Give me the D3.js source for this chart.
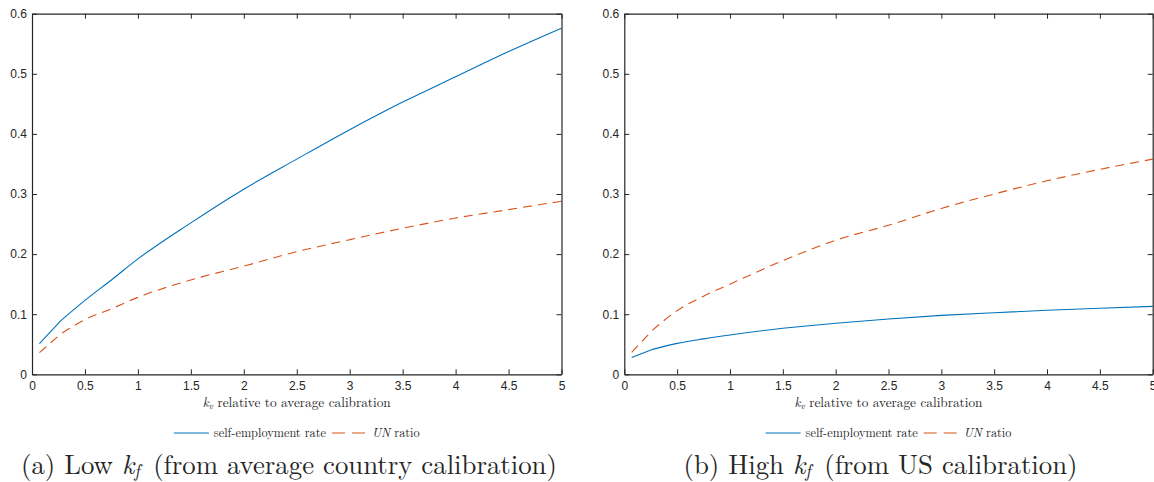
<!DOCTYPE html>
<html>
<head>
<meta charset="utf-8">
<script src="https://cdn.jsdelivr.net/npm/d3@7"></script>
<style>
  body { margin: 0; background: #fff; }
  svg { display: block; }
  .tick text { font-family: "Liberation Sans", Arial, sans-serif; font-size: 12px; fill: #262626; }
  .serif { font-family: "Latin Modern Roman", "CMU Serif", "DejaVu Serif", serif; fill: #262626; }
</style>
</head>
<body>
<script>
var width = 1154,
    height = 482;

// data
var kv = [0.07, 0.27, 0.5, 0.75, 1, 1.5, 2, 2.5, 3, 3.5, 4, 4.5, 5];
var selfEmpLow = [0.051, 0.089, 0.123, 0.157, 0.192, 0.252, 0.308, 0.358, 0.407, 0.453, 0.495, 0.537, 0.576];
var unRatioLow = [0.036, 0.067, 0.091, 0.109, 0.128, 0.157, 0.180, 0.204, 0.224, 0.243, 0.260, 0.274, 0.288];
var selfEmpHigh = [0.028, 0.0415, 0.0515, 0.059, 0.0655, 0.0765, 0.085, 0.092, 0.098, 0.1025, 0.1065, 0.110, 0.113];
var unRatioHigh = [0.0366, 0.074, 0.106, 0.130, 0.150, 0.189, 0.223, 0.248, 0.276, 0.300, 0.322, 0.341, 0.358];
var xTicks = [0, 0.5, 1, 1.5, 2, 2.5, 3, 3.5, 4, 4.5, 5];
var yTicks = [0, 0.1, 0.2, 0.3, 0.4, 0.5, 0.6];

var blue = "#0072BD",
    orange = "#D95319",
    axisColor = "#262626";

var svg = d3.select("body").append("svg")
    .attr("width", width)
    .attr("height", height);

svg.append("rect")
    .attr("width", width)
    .attr("height", height)
    .attr("fill", "#fff");

function drawPanel(left, right, seSeries, unSeries, captionCenter, tag, captionWord, captionRest) {
    var top = 13.7,
        bottom = 374.3;

    var x = d3.scaleLinear().domain([0, 5]).range([left, right]);
    var y = d3.scaleLinear().domain([0, 0.6]).range([bottom, top]);

    var g = svg.append("g");

    // series: straight first step, smooth afterwards (as in the source figure)
    var smooth = d3.line()
        .x(function(d) { return x(d[0]); })
        .y(function(d) { return y(d[1]); })
        .curve(d3.curveMonotoneX);

    function seriesPath(vals) {
        var pts = kv.map(function(k, i) { return [k, vals[i]]; });
        return "M" + x(pts[0][0]) + "," + y(pts[0][1]) + "L" + smooth(pts.slice(1)).slice(1);
    }

    g.append("path")
        .attr("d", seriesPath(unSeries))
        .attr("fill", "none")
        .attr("stroke", orange)
        .attr("stroke-width", 1.1)
        .attr("stroke-dasharray", "9,6");

    g.append("path")
        .attr("d", seriesPath(seSeries))
        .attr("fill", "none")
        .attr("stroke", blue)
        .attr("stroke-width", 1.1);

    // axes, ticks pointing inwards on all four sides
    var bottomAxis = g.append("g")
        .attr("transform", "translate(0," + bottom + ")")
        .call(d3.axisBottom(x).tickValues(xTicks).tickSize(-5).tickSizeOuter(0).tickPadding(7)
            .tickFormat(d3.format("~g")));
    var topAxis = g.append("g")
        .attr("transform", "translate(0," + top + ")")
        .call(d3.axisTop(x).tickValues(xTicks).tickSize(-5).tickSizeOuter(0).tickFormat(""));
    var leftAxis = g.append("g")
        .attr("transform", "translate(" + left + ",0)")
        .call(d3.axisLeft(y).tickValues(yTicks).tickSize(-5).tickSizeOuter(0).tickPadding(5)
            .tickFormat(d3.format("~g")));
    var rightAxis = g.append("g")
        .attr("transform", "translate(" + right + ",0)")
        .call(d3.axisRight(y).tickValues(yTicks).tickSize(-5).tickSizeOuter(0).tickFormat(""));

    [bottomAxis, topAxis, leftAxis, rightAxis].forEach(function(a) {
        a.selectAll("path, line").attr("stroke", axisColor);
        a.select(".domain").attr("stroke-width", 1.2);
    });

    // x axis label
    var xl = g.append("text")
        .attr("class", "serif")
        .attr("x", (left + right) / 2)
        .attr("y", 407)
        .attr("text-anchor", "middle")
        .style("font-size", "13.3px");
    xl.append("tspan").style("font-style", "italic").text("k");
    xl.append("tspan").style("font-style", "italic").style("font-size", "9px").attr("dy", 2).text("v");
    xl.append("tspan").attr("dy", -2).text(" relative to average calibration");

    // legend
    var lg = g.append("g");
    lg.append("line")
        .attr("x1", 0).attr("x2", 35).attr("y1", 0).attr("y2", 0)
        .attr("stroke", blue).attr("stroke-width", 1.1);
    lg.append("text")
        .attr("class", "serif")
        .attr("x", 40).attr("y", 4)
        .style("font-size", "12.3px")
        .text("self-employment rate");
    var txtW = lg.select("text").node().getComputedTextLength();
    var dx = 40 + txtW + 6;
    lg.append("line")
        .attr("x1", dx).attr("x2", dx + 33).attr("y1", 0).attr("y2", 0)
        .attr("stroke", orange).attr("stroke-width", 1.1)
        .attr("stroke-dasharray", "13,7");
    var un = lg.append("text")
        .attr("class", "serif")
        .attr("x", dx + 40).attr("y", 4)
        .style("font-size", "12.3px");
    un.append("tspan").style("font-style", "italic").text("UN");
    un.append("tspan").text(" ratio");
    var bb = lg.node().getBBox();
    lg.attr("transform", "translate(" + ((left + right) / 2 - bb.width / 2) + ",433)");

    // caption
    var cap = g.append("text")
        .attr("class", "serif")
        .attr("x", captionCenter)
        .attr("y", 474)
        .attr("text-anchor", "middle")
        .style("font-size", "26.8px");
    cap.append("tspan").text(tag + " " + captionWord + " ");
    cap.append("tspan").style("font-style", "italic").text("k");
    cap.append("tspan").style("font-style", "italic").style("font-size", "18px").attr("dy", 2.5).text("f");
    cap.append("tspan").attr("dy", -2.5).text("\u2002" + captionRest);
}

drawPanel(32, 561.5, selfEmpLow, unRatioLow, 289, "(a)", "Low", "(from average country calibration)");
drawPanel(624.3, 1152.7, selfEmpHigh, unRatioHigh, 880.5, "(b)", "High", "(from US calibration)");
</script>
</body>
</html>
